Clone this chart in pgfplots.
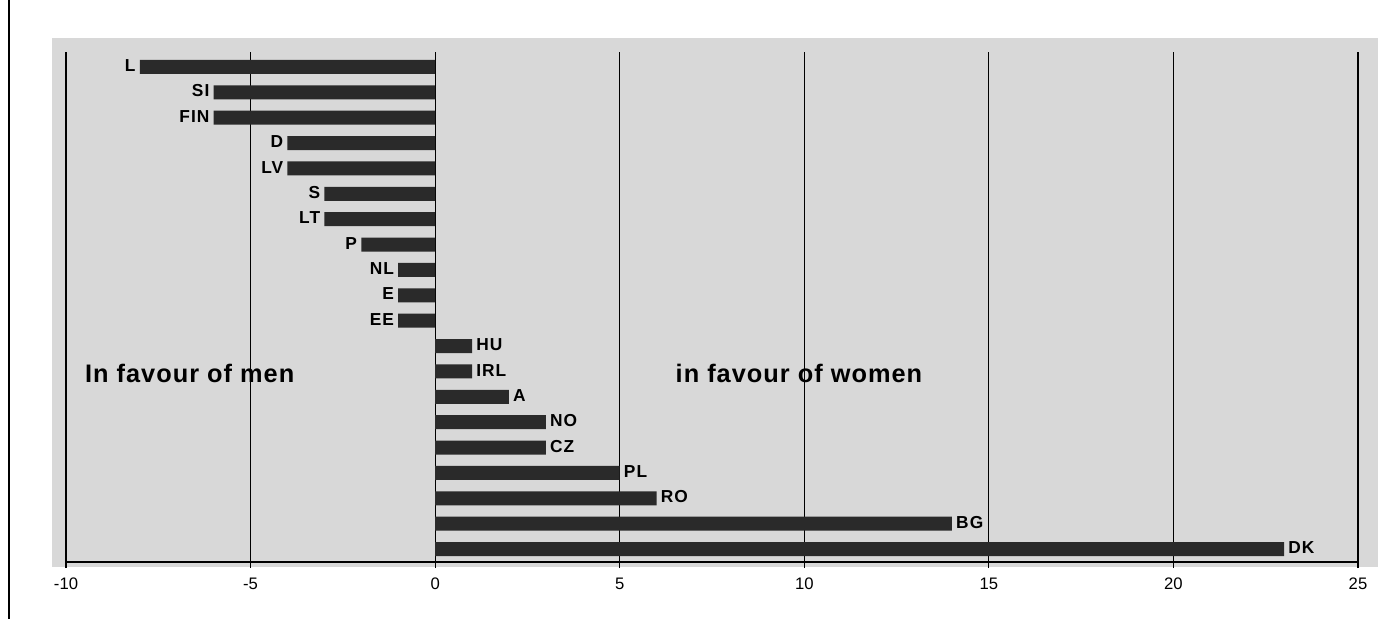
\documentclass[border=0pt]{standalone}
\usepackage{pgfplots}
\pgfplotsset{compat=1.18}
\usepackage{fontspec}
\setmainfont{Liberation Sans}
\newfontfamily\lblfont[LetterSpace=6]{Liberation Sans}
\newfontfamily\bigfont[LetterSpace=4]{Liberation Sans}
\definecolor{bg}{HTML}{D8D8D8}
\definecolor{barc}{HTML}{2A2A2A}

% difference in favour of men (negative) or women (positive)
\pgfplotstableread{
idx val lab
0 -8 L
1 -6 SI
2 -6 FIN
3 -4 D
4 -4 LV
5 -3 S
6 -3 LT
7 -2 P
8 -1 NL
9 -1 E
10 -1 EE
}\negtab
\pgfplotstableread{
idx val lab
11 1 HU
12 1 IRL
13 2 A
14 3 NO
15 3 CZ
16 5 PL
17 6 RO
18 14 BG
19 23 DK
}\postab

\begin{document}
\begin{tikzpicture}
  \useasboundingbox (0,0) rectangle (1035.75pt,-464.25pt);
  \fill[bg] (39pt,-28.5pt) rectangle (1033.5pt,-425.25pt);
  \draw[black, line width=1.1pt] (6.75pt,0) -- (6.75pt,-464.25pt);
  \begin{axis}[
    at={(49.5pt,-421.5pt)}, anchor=south west,
    scale only axis,
    width=969pt, height=382.5pt,
    xmin=-10, xmax=25,
    ymin=-0.59, ymax=19.51,
    y dir=reverse,
    axis x line=bottom,
    axis y line=none,
    x axis line style={-, line width=1pt},
    xtick={-10,-5,0,5,10,15,20,25},
    xticklabels={-10,-5,0,5,10,15,20,25},
    ytick=\empty,
    tick align=outside,
    major tick length=4.5pt,
    tick style={black, line width=0.8pt},
    xticklabel style={font=\fontsize{12.5}{12.5}\selectfont, yshift=-4pt},
    xmajorgrids,
    grid style={black, line width=0.8pt},
    xbar, bar width=10.5pt, bar shift=0pt,
    point meta=explicit symbolic,
    nodes near coords,
    nodes near coords style={font=\lblfont\bfseries\fontsize{13}{13}\selectfont, text=black, inner sep=3pt, yshift=1pt},
  ]
    \addplot[fill=barc, draw=none,
      every node near coord/.append style={anchor=east}]
      table[x=val, y=idx, meta=lab] {\negtab};
    \addplot[fill=barc, draw=none,
      every node near coord/.append style={anchor=west}]
      table[x=val, y=idx, meta=lab] {\postab};
    \node[anchor=west, font=\bigfont\bfseries\fontsize{19}{19}\selectfont, inner sep=0pt]
      at (axis cs:-9.49,12.06) {In favour of men};
    \node[anchor=west, font=\bigfont\bfseries\fontsize{19}{19}\selectfont, inner sep=0pt]
      at (axis cs:6.51,12.06) {in favour of women};
  \end{axis}
\end{tikzpicture}
\end{document}
